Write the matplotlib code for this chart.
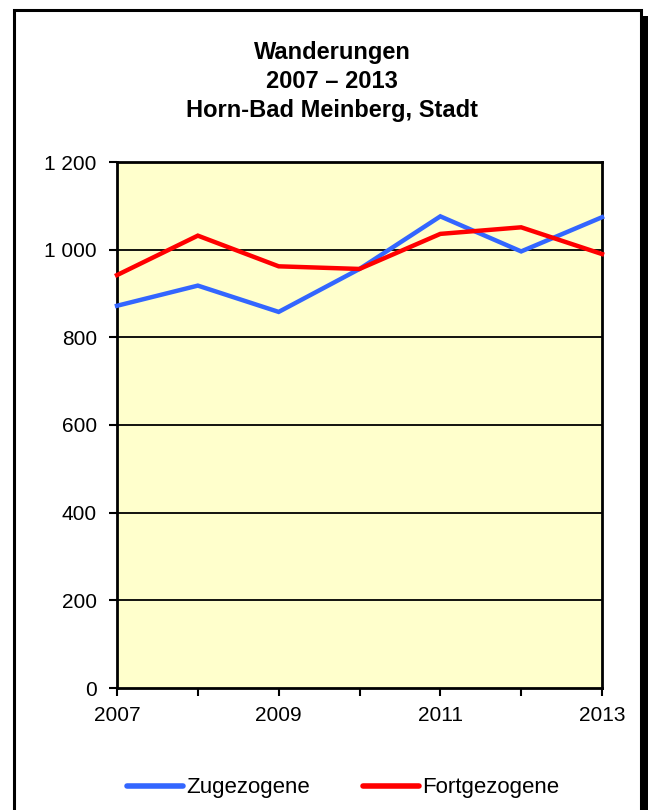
import matplotlib
matplotlib.use("Agg")
import matplotlib.pyplot as plt
from matplotlib.patches import Rectangle

plt.rcParams["font.family"] = ["Liberation Sans", "DejaVu Sans"]

years = [2007, 2008, 2009, 2010, 2011, 2012, 2013]
zugezogene = [872, 918, 858, 956, 1076, 996, 1074]
fortgezogene = [942, 1032, 962, 956, 1036, 1051, 990]
yticks = [0, 200, 400, 600, 800, 1000, 1200]
ytick_labels = ["0", "200", "400", "600", "800", "1 000", "1 200"]
xtick_labels = ["2007", "", "2009", "", "2011", "", "2013"]

W, H = 648, 810
fig = plt.figure(figsize=(W / 100, H / 100), dpi=100)

# outer frame with drop shadow
fig.patches.append(Rectangle((20 / W, -0.05), 640 / W, (H - 16) / H + 0.05,
                             transform=fig.transFigure, facecolor="black",
                             edgecolor="none", zorder=0))
fig.patches.append(Rectangle((14 / W, -0.05), 627 / W, (H - 10) / H + 0.05,
                             transform=fig.transFigure, facecolor="white",
                             edgecolor="black", lw=2.2, zorder=1))

ax = fig.add_axes([117 / W, 1 - 688 / H, 485 / W, 526 / H])
ax.set_zorder(3)
ax.set_facecolor("#FFFFCC")
for y in yticks[1:-1]:
    ax.axhline(y, color="black", lw=1.3, zorder=1)
ax.plot(years, zugezogene, color="#3366FF", lw=3.2, solid_joinstyle="miter",
        label="Zugezogene", zorder=3, clip_on=False)
ax.plot(years, fortgezogene, color="#FF0000", lw=3.2, solid_joinstyle="miter",
        label="Fortgezogene", zorder=4, clip_on=False)

ax.set_xlim(2007, 2013)
ax.set_ylim(0, 1200)
ax.set_xticks(years)
ax.set_xticklabels(xtick_labels)
ax.set_yticks(yticks)
ax.set_yticklabels(ytick_labels)
ax.tick_params(direction="out", length=6, width=1.5, labelsize=15,
               colors="black")
ax.tick_params(axis="x", pad=7)
ax.tick_params(axis="y", pad=8.5)
for s in ax.spines.values():
    s.set_linewidth(2)

for txt, ypx in [("Wanderungen", 52), ("2007 – 2013", 81),
                 ("Horn-Bad Meinberg, Stadt", 110)]:
    fig.text(332 / W, 1 - ypx / H, txt, ha="center", va="center",
             fontsize=17, fontweight="bold")

leg = fig.legend(loc="center", bbox_to_anchor=(343 / W, 1 - 788 / H), ncol=2,
                 frameon=False, fontsize=16, handlelength=2.5,
                 handletextpad=0.15, columnspacing=2.4)
for ln in leg.get_lines():
    ln.set_linewidth(4)
    ln.set_solid_capstyle("round")

fig.savefig("out.png", dpi=100)
